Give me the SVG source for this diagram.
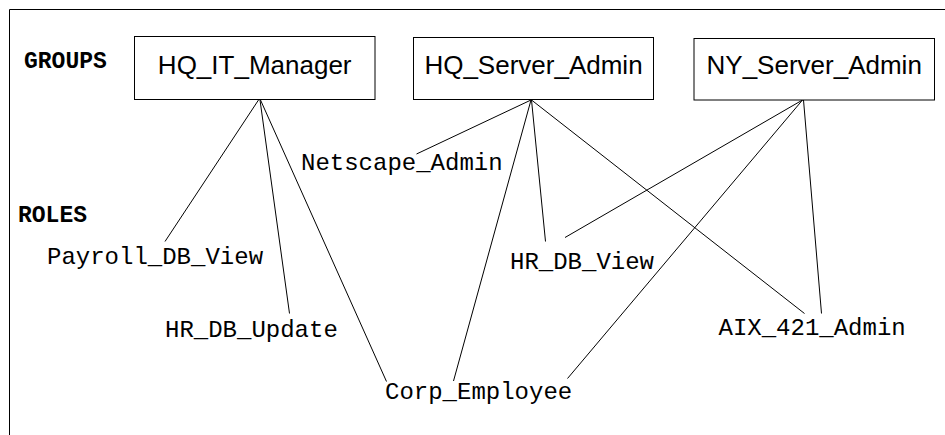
<svg xmlns="http://www.w3.org/2000/svg" width="945" height="435" viewBox="0 0 945 435">
  <style>
    .frame { stroke: #000; stroke-width: 1; fill: none; }
    .box { fill: #fff; stroke: #000; stroke-width: 1; }
    .grp { font-family: "Liberation Sans", Arial, sans-serif; font-size: 26px; fill: #000; text-anchor: middle; }
    .role { font-family: "Liberation Mono", "Courier New", monospace; font-size: 24px; fill: #000; }
    .head { font-family: "Liberation Mono", "Courier New", monospace; font-size: 23px; font-weight: bold; fill: #000; }
    .conn line { stroke: #000; stroke-width: 1; }
  </style>
  <rect width="945" height="435" fill="#fff"/>
  <!-- partial frame: top and left edges -->
  <path class="frame" d="M9.5,435 V9.5 H945"/>

  <text class="head" x="24" y="68">GROUPS</text>
  <text class="head" x="18" y="222">ROLES</text>

  <g id="connectors" class="conn">
    <!-- HQ_IT_Manager -->
    <line x1="258.5" y1="100" x2="165" y2="241.5"/>
    <line x1="260" y1="100" x2="289.5" y2="313.5"/>
    <line x1="260.5" y1="100" x2="386.5" y2="381.5"/>
    <!-- HQ_Server_Admin -->
    <line x1="531" y1="100" x2="416.5" y2="154"/>
    <line x1="531" y1="100" x2="453.5" y2="381"/>
    <line x1="531.5" y1="100" x2="545.5" y2="241.5"/>
    <line x1="531.5" y1="100" x2="804.5" y2="313.5"/>
    <!-- NY_Server_Admin -->
    <line x1="802.5" y1="100" x2="565" y2="237.5"/>
    <line x1="802.5" y1="100" x2="567.5" y2="378.5"/>
    <line x1="803.5" y1="100" x2="821.5" y2="313.5"/>
  </g>

  <g id="HQ_IT_Manager">
    <rect class="box" x="134.5" y="36.5" width="240.5" height="63"/>
    <text class="grp" x="254.7" y="74">HQ_IT_Manager</text>
  </g>
  <g id="HQ_Server_Admin">
    <rect class="box" x="413.5" y="37.5" width="240" height="62"/>
    <text class="grp" x="533.5" y="74">HQ_Server_Admin</text>
  </g>
  <g id="NY_Server_Admin">
    <rect class="box" x="694" y="38.5" width="240.5" height="61.5"/>
    <text class="grp" x="814.2" y="74">NY_Server_Admin</text>
  </g>

  <g id="Netscape_Admin"><text class="role" x="301" y="170">Netscape_Admin</text></g>
  <g id="Payroll_DB_View"><text class="role" x="47" y="264">Payroll_DB_View</text></g>
  <g id="HR_DB_View"><text class="role" x="510" y="269">HR_DB_View</text></g>
  <g id="HR_DB_Update"><text class="role" x="165" y="337">HR_DB_Update</text></g>
  <g id="AIX_421_Admin"><text class="role" x="718.5" y="335">AIX_421_Admin</text></g>
  <g id="Corp_Employee"><text class="role" x="385" y="399">Corp_Employee</text></g>
</svg>
